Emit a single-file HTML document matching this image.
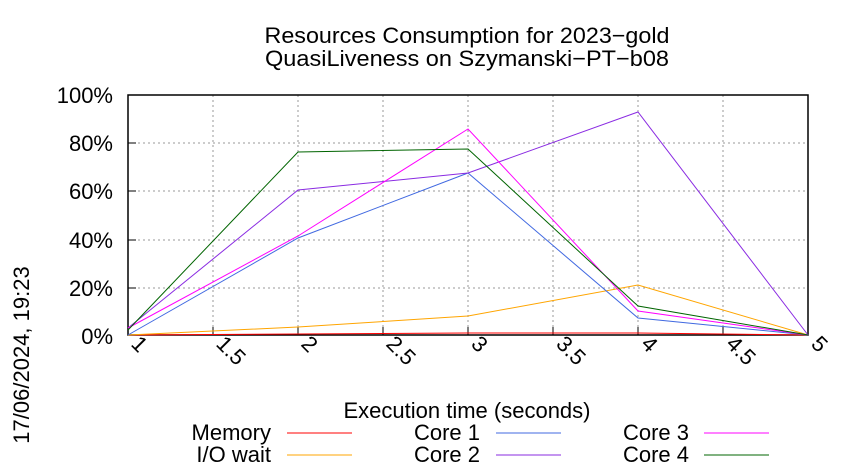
<!DOCTYPE html><html><head><style>body{margin:0;background:#fff}svg{display:block}text{font-family:"Liberation Sans",sans-serif;fill:#000}</style></head><body>
<svg width="850" height="475" viewBox="0 0 850 475">
<g font-size="22" text-anchor="middle"><text x="467" y="43" textLength="405" lengthAdjust="spacingAndGlyphs">Resources Consumption for 2023−gold</text><text x="467" y="66" textLength="404" lengthAdjust="spacingAndGlyphs">QuasiLiveness on Szymanski−PT−b08</text></g>
<g stroke="#999" stroke-dasharray="2,3" stroke-width="1">
<line x1="128" y1="95" x2="808" y2="95"/><line x1="128" y1="143" x2="808" y2="143"/><line x1="128" y1="191" x2="808" y2="191"/><line x1="128" y1="240" x2="808" y2="240"/><line x1="128" y1="288" x2="808" y2="288"/>
<line x1="213" y1="95" x2="213" y2="335"/><line x1="298" y1="95" x2="298" y2="335"/><line x1="383" y1="95" x2="383" y2="335"/><line x1="468" y1="95" x2="468" y2="335"/><line x1="553" y1="95" x2="553" y2="335"/><line x1="638" y1="95" x2="638" y2="335"/><line x1="723" y1="95" x2="723" y2="335"/></g>
<g stroke="#000" stroke-width="1">
<line x1="213" y1="335" x2="213" y2="327"/><line x1="298" y1="335" x2="298" y2="327"/><line x1="383" y1="335" x2="383" y2="327"/><line x1="468" y1="335" x2="468" y2="327"/><line x1="553" y1="335" x2="553" y2="327"/><line x1="638" y1="335" x2="638" y2="327"/><line x1="723" y1="335" x2="723" y2="327"/>
<line x1="128" y1="143" x2="136" y2="143"/><line x1="128" y1="191" x2="136" y2="191"/><line x1="128" y1="240" x2="136" y2="240"/><line x1="128" y1="288" x2="136" y2="288"/>
</g>
<rect x="128" y="95" width="680" height="240" fill="none" stroke="#000" stroke-width="1.5"/>
<g font-size="22" text-anchor="end"><text x="113" y="103">100%</text><text x="113" y="151">80%</text><text x="113" y="199">60%</text><text x="113" y="248">40%</text><text x="113" y="296">20%</text><text x="113" y="344">0%</text></g>
<g font-size="22">
<text transform="translate(130,345) rotate(45)">1</text><text transform="translate(215,345) rotate(45)">1.5</text><text transform="translate(300,345) rotate(45)">2</text><text transform="translate(385,345) rotate(45)">2.5</text><text transform="translate(470,345) rotate(45)">3</text><text transform="translate(555,345) rotate(45)">3.5</text><text transform="translate(640,345) rotate(45)">4</text><text transform="translate(725,345) rotate(45)">4.5</text><text transform="translate(810,345) rotate(45)">5</text></g>
<g fill="none" stroke-width="1">
<polyline stroke="#ff0000" points="128,335 298,334 468,333 638,333 808,335"/>
<polyline stroke="#ffa500" points="128,335 298,327 468,316 638,285 808,335"/>
<polyline stroke="#4169e1" points="128,335 298,238 468,173 638,318 808,335"/>
<polyline stroke="#8a2be2" points="128,328 298,190 468,173 638,112 808,335"/>
<polyline stroke="#ff00ff" points="128,328 298,236 468,129 638,311 808,335"/>
<polyline stroke="#006400" points="128,330 298,152 468,149 638,306 808,335"/>
</g>
<text x="467" y="418" font-size="22" text-anchor="middle">Execution time (seconds)</text>
<text transform="translate(29,355) rotate(-90)" font-size="22" text-anchor="middle">17/06/2024, 19:23</text>
<g font-size="22" text-anchor="end"><text x="271" y="440">Memory</text><text x="271" y="462">I/O wait</text><text x="480" y="440">Core 1</text><text x="480" y="462">Core 2</text><text x="689" y="440">Core 3</text><text x="689" y="462">Core 4</text></g>
<g stroke-width="1"><line x1="287" y1="433" x2="352" y2="433" stroke="#ff0000"/><line x1="287" y1="455" x2="352" y2="455" stroke="#ffa500"/><line x1="496" y1="433" x2="561" y2="433" stroke="#4169e1"/><line x1="496" y1="455" x2="561" y2="455" stroke="#8a2be2"/><line x1="704" y1="433" x2="769" y2="433" stroke="#ff00ff"/><line x1="704" y1="455" x2="769" y2="455" stroke="#006400"/></g>
</svg></body></html>
